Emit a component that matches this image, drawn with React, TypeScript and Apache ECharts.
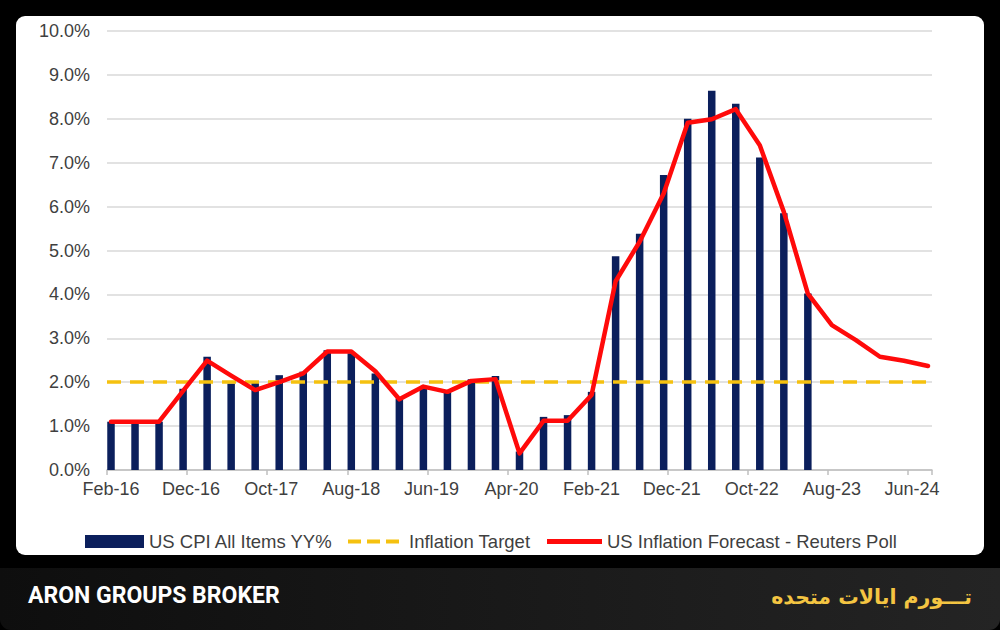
import React, { useEffect, useRef } from "react";
import * as echarts from "echarts";

const MONTH_NAMES = ["Jan", "Feb", "Mar", "Apr", "May", "Jun", "Jul", "Aug", "Sep", "Oct", "Nov", "Dec"];
const START_YEAR = 2016;
const START_MONTH = 1; // Feb
const MONTH_COUNT = 103; // Feb-16 .. Aug-24

// monthly category labels (Feb-16 ... Aug-24)
const categories: string[] = Array.from({ length: MONTH_COUNT }, (_, i) => {
  const m = START_MONTH + i;
  const y = START_YEAR + Math.floor(m / 12);
  return `${MONTH_NAMES[m % 12]}-${String(y).slice(2)}`;
});

// quarterly observations, starting Feb-16, one every 3 months
const QUARTER_STEP = 3;
const cpiValues = [
  1.1, 1.1, 1.1, 1.85, 2.58, 1.97, 2.01, 2.16, 2.24, 2.73,
  2.66, 2.2, 1.63, 1.86, 1.82, 2.07, 2.14, 0.42, 1.21, 1.25,
  1.78, 4.87, 5.38, 6.72, 8.0, 8.64, 8.34, 7.12, 5.85, 4.02,
];
const forecastValues = [
  1.1, 1.1, 1.1, 1.8, 2.49, 2.15, 1.82, 2.0, 2.2, 2.7,
  2.7, 2.25, 1.61, 1.9, 1.78, 2.03, 2.07, 0.38, 1.12, 1.12,
  1.71, 4.3, 5.2, 6.3, 7.91, 7.99, 8.22, 7.4, 5.88, 4.02,
  3.3, 2.96, 2.58, 2.49, 2.37,
];
const TARGET = 2;
const Y_MIN = 0;
const Y_MAX = 10;
const Y_STEP = 1;

const SERIES_CPI = "US CPI All Items YY%";
const SERIES_TARGET = "Inflation Target";
const SERIES_FORECAST = "US Inflation Forecast - Reuters Poll";

const NAVY = "#0b1f5c";
const YELLOW = "#F5C10F";
const RED = "#FF0A0A";
const TEXT = "#3f3f3f";
const FONT = "'Liberation Sans', Arial, Helvetica, sans-serif";

function toMonthly(values: number[]): (number | null)[] {
  return categories.map((_, i) =>
    i % QUARTER_STEP === 0 && i / QUARTER_STEP < values.length ? values[i / QUARTER_STEP] : null
  );
}

export default function App() {
  const ref = useRef<HTMLDivElement>(null);

  useEffect(() => {
    if (!ref.current) return;
    const chart = echarts.init(ref.current, undefined, { renderer: "svg" });

    const legendText = { fontSize: 18.5, color: TEXT, fontFamily: FONT };
    const legendBase = {
      top: 532,
      padding: 0,
      textStyle: legendText,
      selectedMode: false,
    };

    chart.setOption({
      animation: false,
      backgroundColor: "#000",
      graphic: [
        { type: "rect", z: -100, shape: { x: 16, y: 16, width: 968, height: 539, r: 9 }, style: { fill: "#fff" } },
        {
          type: "rect",
          z: -100,
          shape: { x: 0, y: 568, width: 1000, height: 62, r: [0, 0, 11, 11] },
          style: {
            fill: new echarts.graphic.LinearGradient(0, 0, 1, 0, [
              { offset: 0, color: "#0e0e0e" },
              { offset: 1, color: "#242424" },
            ]),
          },
        },
        {
          type: "text",
          z: 10,
          x: 28,
          y: 595,
          style: {
            text: "ARON GROUPS BROKER",
            fill: "#ffffff",
            font: "bold 23px Roboto, 'Liberation Sans', sans-serif",
            textVerticalAlign: "middle",
          },
        },
        {
          type: "text",
          z: 10,
          x: 972,
          y: 597,
          style: {
            text: "تـــورم ایالات متحده",
            fill: "#F4C542",
            font: "bold 20.5px 'DejaVu Sans', sans-serif",
            textAlign: "right",
            textVerticalAlign: "middle",
          },
        },
      ],
      grid: { left: 107, right: 68, top: 31, bottom: 160, containLabel: false },
      legend: [
        { ...legendBase, left: 85, itemWidth: 59, itemHeight: 13, data: [{ name: SERIES_CPI, icon: "rect" }] },
        {
          ...legendBase,
          left: 348,
          itemWidth: 51,
          itemHeight: 4,
          textStyle: { ...legendText, padding: [0, 0, 0, 5] },
          data: [{ name: SERIES_TARGET, icon: "path://M0,0h13v4h-13z M19,0h13v4h-13z M38,0h13v4h-13z" }],
        },
        {
          ...legendBase,
          left: 547,
          itemWidth: 55,
          itemHeight: 5,
          data: [{ name: SERIES_FORECAST, icon: "path://M0,0h55v5h-55z" }],
        },
      ],
      xAxis: {
        type: "category",
        data: categories,
        boundaryGap: true,
        axisLine: { lineStyle: { color: "#bfbfbf", width: 1.5 } },
        axisTick: { show: true, interval: 9, length: 5, lineStyle: { color: "#bfbfbf", width: 1.5 } },
        axisLabel: { interval: 9, margin: 10, fontSize: 18, color: TEXT, fontFamily: FONT },
        splitLine: { show: false },
      },
      yAxis: {
        type: "value",
        min: Y_MIN,
        max: Y_MAX,
        interval: Y_STEP,
        axisLine: { show: false },
        axisTick: { show: false },
        axisLabel: {
          margin: 17,
          fontSize: 18,
          color: TEXT,
          fontFamily: FONT,
          formatter: (v: number) => v.toFixed(1) + "%",
        },
        splitLine: { lineStyle: { color: "#d9d9d9", width: 1.5 } },
      },
      series: [
        {
          name: SERIES_CPI,
          type: "bar",
          data: toMonthly(cpiValues),
          barWidth: 7.5,
          itemStyle: { color: NAVY },
          z: 2,
        },
        {
          name: SERIES_TARGET,
          type: "line",
          data: [],
          symbol: "none",
          lineStyle: { color: YELLOW, width: 3.5, type: [14, 9] },
          itemStyle: { color: YELLOW },
          z: 3,
          markLine: {
            silent: true,
            symbol: "none",
            label: { show: false },
            lineStyle: { color: YELLOW, width: 3.5, type: [14, 9] },
            data: [{ yAxis: TARGET }],
            z: 3,
          },
        },
        {
          name: SERIES_FORECAST,
          type: "line",
          data: toMonthly(forecastValues),
          connectNulls: true,
          symbol: "none",
          lineStyle: { color: RED, width: 4.5, cap: "round", join: "round" },
          itemStyle: { color: RED },
          z: 4,
        },
      ],
    });

    return () => chart.dispose();
  }, []);

  return (
    <div
      ref={ref}
      style={{ position: "absolute", left: 0, top: 0, width: 1000, height: 630 }}
    />
  );
}
